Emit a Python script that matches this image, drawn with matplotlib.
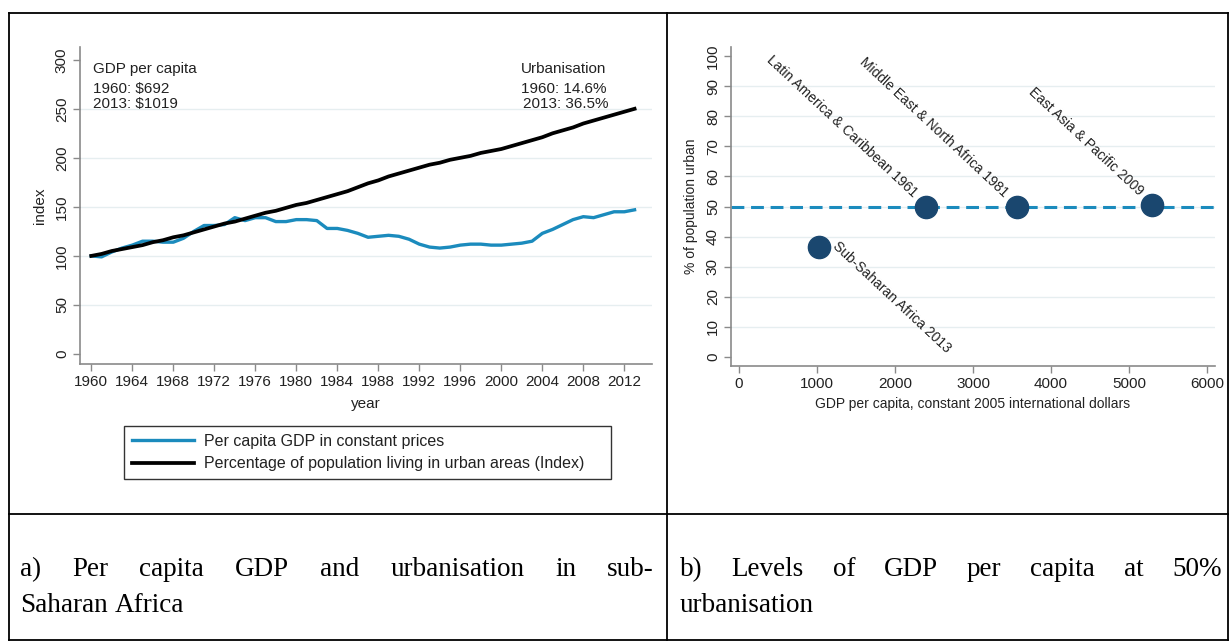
import matplotlib
matplotlib.use('Agg')
import matplotlib.pyplot as plt
from matplotlib.lines import Line2D

# panel a) indices, 1960 = 100
years = list(range(1960, 2014))
gdp_index = [100, 99, 104, 108, 111, 115, 115, 114, 114, 118,
             125, 131, 131, 132, 139, 136, 139, 139, 135, 135,
             137, 137, 136, 128, 128, 126, 123, 119, 120, 121,
             120, 117, 112, 109, 108, 109, 111, 112, 112, 111,
             111, 112, 113, 115, 123, 127, 132, 137, 140, 139,
             142, 145, 145, 147]
urban_index = [100, 102, 105, 107, 109, 111, 114, 116, 119, 121,
               124, 127, 130, 133, 135, 138, 141, 144, 146, 149,
               152, 154, 157, 160, 163, 166, 170, 174, 177, 181,
               184, 187, 190, 193, 195, 198, 200, 202, 205, 207,
               209, 212, 215, 218, 221, 225, 228, 231, 235, 238,
               241, 244, 247, 250]

# panel b) GDP per capita when regions reached 50% urban
regions = ['Latin America & Caribbean 1961', 'Middle East & North Africa 1981',
           'East Asia & Pacific 2009', 'Sub-Saharan Africa 2013']
region_gdp = [2397, 3564, 5295, 1026]
region_urban = [50, 50, 50.5, 36.5]

blue = '#1b8bbd'
navy = '#1a476f'
grid_c = '#e6eef0'
spine_c = '#8a8a8a'
txt_c = '#222222'

plt.rcParams['font.family'] = ['Liberation Sans', 'DejaVu Sans']

W, H = 1231, 641
fig = plt.figure(figsize=(W / 100, H / 100), dpi=100)


def box(x0, y0, x1, y1):
    return [x0 / W, 1 - y1 / H, (x1 - x0) / W, (y1 - y0) / H]


def style(ax):
    for s in ['top', 'right']:
        ax.spines[s].set_visible(False)
    for s in ['left', 'bottom']:
        ax.spines[s].set_color(spine_c)
        ax.spines[s].set_linewidth(1.2)
    ax.tick_params(direction='out', length=5, color=spine_c, width=1,
                   labelsize=11, labelcolor=txt_c, pad=3)
    for lab in ax.get_yticklabels():
        lab.set_rotation(90)
        lab.set_va('center')


# ---- panel a
ax1 = fig.add_axes(box(80, 47, 652, 364))
for v in range(50, 300, 50):
    ax1.axhline(v, color=grid_c, lw=1, zorder=0)
l1, = ax1.plot(years, gdp_index, color=blue, lw=2.4,
               label='Per capita GDP in constant prices')
l2, = ax1.plot(years, urban_index, color='black', lw=2.7,
               label='Percentage of population living in urban areas (Index)')
ax1.set_xlim(1958.9, 2014.7)
ax1.set_ylim(-10.2, 313)
ax1.set_xticks(range(1960, 2013, 4))
ax1.set_yticks(range(0, 301, 50))
style(ax1)
ax1.set_xlabel('year', fontsize=11, color=txt_c, labelpad=6)
ax1.set_ylabel('index', fontsize=11, color=txt_c, labelpad=6)

ax1.text(1960.2, 291, 'GDP per capita', fontsize=11, color=txt_c, va='center')
ax1.text(1960.2, 270, '1960: $692', fontsize=11, color=txt_c, va='center')
ax1.text(1960.2, 255, '2013: $1019', fontsize=11, color=txt_c, va='center')
ax1.text(2001.95, 291, 'Urbanisation', fontsize=11, color=txt_c, va='center')
ax1.text(2001.95, 270, '1960: 14.6%', fontsize=11, color=txt_c, va='center')
ax1.text(2002.15, 255, '2013: 36.5%', fontsize=11, color=txt_c, va='center')

leg = fig.legend(handles=[l1, l2], loc='upper left',
                 bbox_to_anchor=(124 / W, 1 - 477 / H, 487 / W, 51 / H),
                 mode='expand', fontsize=11.5, frameon=True, fancybox=False,
                 handlelength=3.9, handletextpad=0.6, labelspacing=0.45,
                 borderpad=0.5, borderaxespad=0)
leg.get_frame().set_edgecolor('black')
leg.get_frame().set_linewidth(1)
for t in leg.get_texts():
    t.set_color(txt_c)

# ---- panel b
ax2 = fig.add_axes(box(731, 47, 1215, 366))
for v in range(10, 100, 10):
    ax2.axhline(v, color=grid_c, lw=1, zorder=0)
ax2.axhline(50, color=blue, lw=2.2, dashes=(4.2, 2.2), zorder=1)
ax2.plot(region_gdp, region_urban, 'o', color=navy, markersize=16, zorder=3)
ax2.set_xlim(-103, 6103)
ax2.set_ylim(-3, 103)
ax2.set_xticks(range(0, 6001, 1000))
ax2.set_yticks(range(0, 101, 10))
style(ax2)
ax2.set_xlabel('GDP per capita, constant 2005 international dollars',
               fontsize=10, color=txt_c, labelpad=4)
ax2.set_ylabel('% of population urban', fontsize=10, color=txt_c, labelpad=6)

for name, x, y in zip(regions, region_gdp, region_urban):
    if y < 45:
        ax2.annotate(name, (x, y), xytext=(16, 3), textcoords='offset pixels',
                     rotation=-43, rotation_mode='anchor', ha='left', va='center',
                     fontsize=10, color=txt_c)
    else:
        ax2.annotate(name, (x, y), xytext=(-11, 12), textcoords='offset pixels',
                     rotation=-43, rotation_mode='anchor', ha='right', va='center',
                     fontsize=10, color=txt_c)

# ---- table frame
for (xa, ya, xb, yb) in [(9, 13, 1228, 13), (9, 514, 1228, 514), (9, 640, 1228, 640),
                         (9, 13, 9, 640), (667, 13, 667, 640), (1228, 13, 1228, 640)]:
    fig.add_artist(Line2D([xa / W, xb / W], [1 - ya / H, 1 - yb / H],
                          transform=fig.transFigure, color='black', lw=1.3))

# ---- captions (justified first lines)
renderer = fig.canvas.get_renderer()
cap_font = dict(family='Liberation Serif', fontsize=19.5, color='black')


def caption_line(words, x0, x1, y, justify=True):
    texts = [fig.text(0, 1 - y / H, w, va='baseline', ha='left', **cap_font) for w in words]
    widths = [t.get_window_extent(renderer).width for t in texts]
    if justify and len(words) > 1:
        gap = (x1 - x0 - sum(widths)) / (len(words) - 1)
    else:
        gap = 0.25 * 19.5 * 100 / 72
    x = x0
    for t, w in zip(texts, widths):
        t.set_x(x / W)
        x += w + gap


caption_line('a) Per capita GDP and urbanisation in sub-'.split(), 20, 654, 576)
caption_line('Saharan Africa'.split(), 20, 654, 612, justify=False)
caption_line('b) Levels of GDP per capita at 50%'.split(), 680, 1222, 576)
caption_line('urbanisation'.split(), 680, 1222, 612, justify=False)

fig.savefig('out.png', dpi=100)
